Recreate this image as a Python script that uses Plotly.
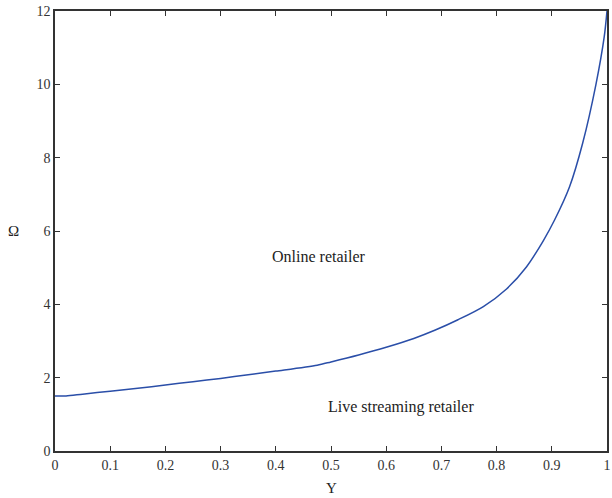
import plotly.graph_objects as go

gamma = [0, 0.02, 0.05, 0.1, 0.15, 0.2, 0.25, 0.3, 0.35, 0.4, 0.475, 0.5, 0.55,
         0.6, 0.65, 0.689, 0.73, 0.776, 0.818, 0.854, 0.884, 0.905, 0.932, 0.956,
         0.98, 0.995, 1.0]
omega = [1.5, 1.5, 1.55, 1.63, 1.71, 1.8, 1.89, 1.98, 2.08, 2.18, 2.34, 2.43, 2.62,
         2.83, 3.07, 3.3, 3.58, 3.94, 4.42, 5.02, 5.72, 6.3, 7.2, 8.4,
         10.0, 11.3, 12.0]

x_ticks = [0, 0.1, 0.2, 0.3, 0.4, 0.5, 0.6, 0.7, 0.8, 0.9, 1]
x_tick_text = ["0", "0.1", "0.2", "0.3", "0.4", "0.5", "0.6", "0.7", "0.8", "0.9", "1"]
y_ticks = [0, 2, 4, 6, 8, 10, 12]

FONT = "Liberation Serif"

fig = go.Figure()
fig.add_trace(go.Scatter(x=gamma, y=omega, mode="lines",
                         line=dict(color="#2a4ea8", width=1.5, shape="spline", smoothing=0.8),
                         showlegend=False, hoverinfo="skip"))

axis_common = dict(showgrid=False, zeroline=False, showline=True, linecolor="#333333",
                   linewidth=1.5, ticks="inside", ticklen=5, tickwidth=1.2,
                   tickcolor="#333333", mirror="ticks", ticklabeloverflow="allow",
                   tickfont=dict(family=FONT, size=14, color="#333333"))

fig.update_xaxes(range=[0, 1], tickvals=x_ticks, ticktext=x_tick_text, **axis_common)
fig.update_yaxes(range=[0, 12], tickvals=y_ticks, **axis_common)

fig.add_annotation(x=0.478, y=5.3, text="Online retailer", showarrow=False,
                   font=dict(family=FONT, size=16, color="#222222"))
fig.add_annotation(x=0.626, y=1.2, text="Live streaming retailer", showarrow=False,
                   font=dict(family=FONT, size=16, color="#222222"))
fig.add_annotation(xref="paper", yref="paper", x=-0.076, y=0.5, xanchor="center",
                   text="Ω", showarrow=False,
                   font=dict(family=FONT, size=15, color="#222222"))
fig.add_annotation(xref="paper", yref="paper", x=0.5, y=-0.084, yanchor="middle",
                   text="Y", showarrow=False,
                   font=dict(family=FONT, size=15, color="#222222"))

fig.update_layout(width=612, height=498, plot_bgcolor="white", paper_bgcolor="white",
                  margin=dict(l=55, r=1, t=11, b=47))

fig.write_html("out.html", config={"displayModeBar": False},
               post_script="document.body.style.margin='0';")
